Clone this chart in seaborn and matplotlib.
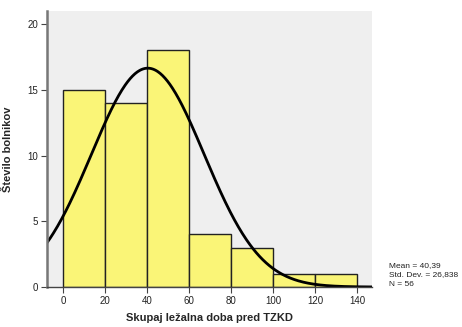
import numpy as np
import pandas as pd
import matplotlib
matplotlib.use("Agg")
import matplotlib.pyplot as plt
import seaborn as sns

# Histogram bins (days) and patient counts per bin
bin_edges = [0, 20, 40, 60, 80, 100, 120, 140]
counts = [15, 14, 18, 4, 3, 1, 1]
mean_val = 40.39
std_val = 26.838
n_total = 56
x_ticks = [0, 20, 40, 60, 80, 100, 120, 140]
y_ticks = [0, 5, 10, 15, 20]

sns.set_style("white")
plt.rcParams["font.family"] = ["Liberation Sans", "DejaVu Sans"]

fig = plt.figure(figsize=(4.62, 3.27), dpi=100)
ax = fig.add_axes([0.1017, 0.1223, 0.7033, 0.8441])
ax.set_facecolor("#EFEFEF")

centers = [(a + b) / 2 for a, b in zip(bin_edges[:-1], bin_edges[1:])]
df = pd.DataFrame({"x": centers, "n": counts})
sns.histplot(data=df, x="x", weights="n", bins=bin_edges, ax=ax,
             color="#FAF577", alpha=1.0, edgecolor="#222222", linewidth=1.0)

# Fitted normal curve, scaled to counts per bin
xs = np.linspace(-7.6, 147.1, 400)
bw = bin_edges[1] - bin_edges[0]
ys = n_total * bw / (std_val * np.sqrt(2 * np.pi)) * np.exp(-0.5 * ((xs - mean_val) / std_val) ** 2)
sns.lineplot(x=xs, y=ys, ax=ax, color="black", linewidth=2.0)

ax.set_xlim(-7.6, 147.1)
ax.set_ylim(0, 21)
ax.set_xticks(x_ticks)
ax.set_yticks(y_ticks)
ax.tick_params(axis="both", labelsize=7, length=4.5, width=0.8, color="#444444",
               labelcolor="#222222", pad=2, direction="out", bottom=True, left=True)

for side in ["top", "right"]:
    ax.spines[side].set_visible(False)
ax.spines["left"].set_color("#777777")
ax.spines["left"].set_linewidth(1.8)
ax.spines["bottom"].set_color("#444444")
ax.spines["bottom"].set_linewidth(1.0)

ax.set_xlabel("Skupaj ležalna doba pred TZKD", fontsize=8, fontweight="bold")
ax.xaxis.set_label_coords(0.5, -0.095)
ax.set_ylabel("Število bolnikov", fontsize=8, fontweight="bold")
ax.yaxis.set_label_coords(-0.105, 0.5)


def comma(v, digits):
    return f"{v:.{digits}f}".replace(".", ",")


stats = f"Mean = {comma(mean_val, 2)}\nStd. Dev. = {comma(std_val, 3)}\nN = {n_total}"
fig.text(389 / 462, 1 - 262 / 327, stats, fontsize=6, va="top", ha="left",
         linespacing=1.5, color="#222222")

fig.savefig("out.png", dpi=100, facecolor="white")
